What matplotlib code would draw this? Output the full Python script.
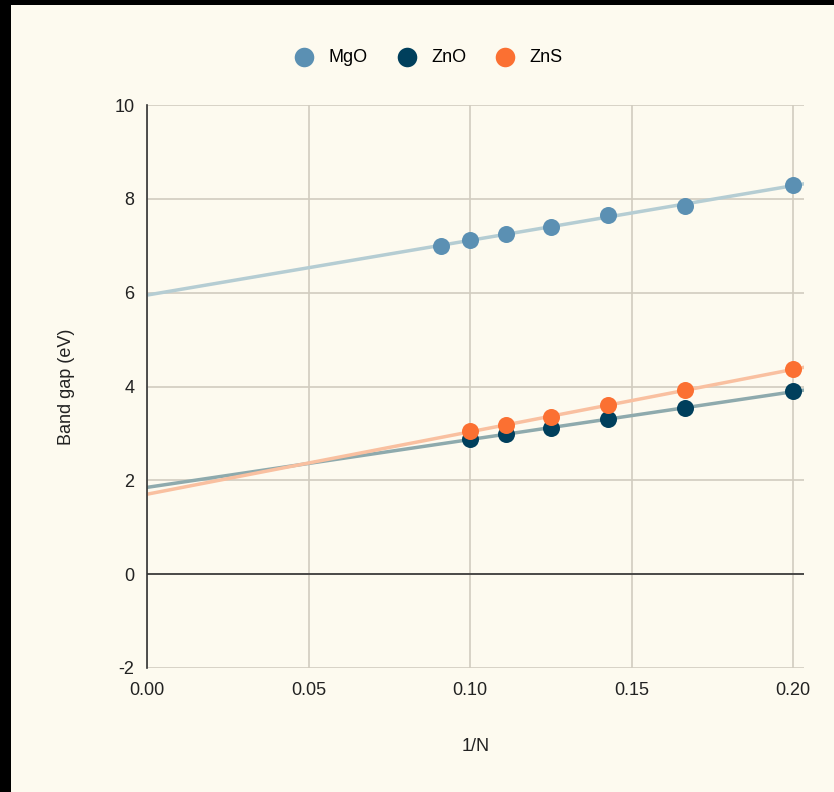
import matplotlib.pyplot as plt
import numpy as np
from matplotlib.patches import Rectangle

plt.rcParams['font.family'] = ['Liberation Sans', 'DejaVu Sans']
plt.rcParams['axes.unicode_minus'] = False

# 1/N for N = 5..11
inv_n = [0.2, 1/6, 1/7, 0.125, 1/9, 0.1, 1/11]

mgo_gap = [8.29, 7.85, 7.65, 7.41, 7.25, 7.12, 6.99]
zno_gap = [3.90, 3.54, 3.30, 3.11, 2.99, 2.88]
zns_gap = [4.37, 3.92, 3.60, 3.35, 3.18, 3.05]

series = [
    ("MgO", inv_n, mgo_gap, "#5b90b3", "#b5cdd3"),
    ("ZnO", inv_n[:6], zno_gap, "#003f5c", "#8eaaad"),
    ("ZnS", inv_n[:6], zns_gap, "#fb7032", "#f9c0a0"),
]

BG = "#fdfaef"
W, H = 834, 792
fig = plt.figure(figsize=(W / 100, H / 100), dpi=100, facecolor=BG)
# thin dark border along the top and left edges
fig.patches.append(Rectangle((0, 0), 11 / W, 1, transform=fig.transFigure,
                             facecolor="black", edgecolor="none", zorder=-5))
fig.patches.append(Rectangle((0, 1 - 5 / H), 1, 5 / H, transform=fig.transFigure,
                             facecolor="black", edgecolor="none", zorder=-5))

ax = fig.add_axes([147 / W, 1 - 668 / H, (804 - 147) / W, (668 - 105) / H])
ax.set_facecolor(BG)

xmax = 0.2034
ax.set_xlim(0, xmax)
ax.set_ylim(-2, 10)
ax.set_xticks([0, 0.05, 0.10, 0.15, 0.20])
ax.set_xticklabels(["0.00", "0.05", "0.10", "0.15", "0.20"])
ax.set_yticks([-2, 0, 2, 4, 6, 8, 10])
ax.grid(True, color="#d1ccbf", linewidth=1.2)
ax.set_axisbelow(True)
ax.axhline(0, color="#333333", linewidth=1.2, zorder=1)

for side in ["top", "right", "bottom"]:
    ax.spines[side].set_visible(False)
ax.spines["left"].set_color("#333333")
ax.spines["left"].set_linewidth(1.2)
ax.tick_params(axis="x", length=0, labelsize=13, colors="#222222", pad=10)
ax.tick_params(axis="y", length=0, labelsize=13, colors="#222222", pad=9)

xs = np.array([0, xmax])
for name, x, y, c, lc in series:
    k, b = np.polyfit(x, y, 1)
    ax.plot(xs, k * xs + b, color=lc, linewidth=2.5, zorder=2)
    ax.scatter(x, y, s=150, color=c, zorder=3, label=name, linewidths=0)

ax.set_xlabel("1/N", fontsize=13, color="#222222", labelpad=28)
ax.set_ylabel("Band gap (eV)", fontsize=13, color="#222222", labelpad=28)

ax.legend(loc="lower center", bbox_to_anchor=(0.422, 1.04), ncol=3,
          frameon=False, fontsize=13, handletextpad=0.35, columnspacing=1.15,
          markerscale=1.15)

fig.savefig("out.png", dpi=100, facecolor=fig.get_facecolor())
